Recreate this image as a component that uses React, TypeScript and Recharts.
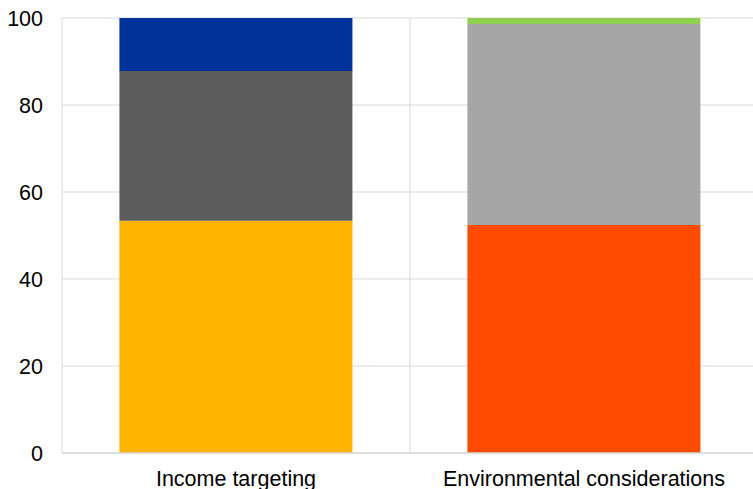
import React from 'react';
import { BarChart, Bar, XAxis, YAxis, CartesianGrid } from 'recharts';

const categories = ['Income targeting', 'Environmental considerations'];
const incomeLow = [53.4, 0];
const incomeMid = [34.4, 0];
const incomeTop = [12.2, 0];
const envLow = [0, 52.4];
const envMid = [0, 46.2];
const envTop = [0, 1.4];
const yTicks = [0, 20, 40, 60, 80, 100];

const data = categories.map((name, i) => ({
  name,
  incomeLow: incomeLow[i],
  envLow: envLow[i],
  incomeMid: incomeMid[i],
  envMid: envMid[i],
  incomeTop: incomeTop[i],
  envTop: envTop[i],
}));

const font = 'Arial, "Liberation Sans", sans-serif';

export default function App() {
  return (
    <div style={{ position: 'absolute', left: 0, top: 0, width: 753, height: 489, overflow: 'hidden', background: '#fff' }}>
      <BarChart
        width={760}
        height={489}
        data={data}
        margin={{ top: 18, right: 2, left: 0, bottom: 0 }}
        barCategoryGap="16.5%"
      >
        <CartesianGrid
          stroke="#d9d9d9"
          strokeWidth={1}
          verticalCoordinatesGenerator={({ offset }: any) => [
            offset.left,
            offset.left + offset.width / 2,
            offset.left + offset.width,
          ]}
        />
        <XAxis
          dataKey="name"
          height={36}
          tickLine={false}
          tickSize={0}
          tickMargin={18}
          axisLine={{ stroke: '#d9d9d9', strokeWidth: 1.5 }}
          tick={{ fill: '#000', fontSize: 21.5, fontFamily: font }}
          interval={0}
        />
        <YAxis
          width={62}
          domain={[0, 100]}
          ticks={yTicks}
          tickLine={false}
          tickSize={0}
          tickMargin={19}
          axisLine={false}
          tick={{ fill: '#000', fontSize: 21.5, fontFamily: font }}
        />
        <Bar dataKey="incomeLow" stackId="a" fill="#ffb400" isAnimationActive={false} />
        <Bar dataKey="envLow" stackId="a" fill="#ff4b00" isAnimationActive={false} />
        <Bar dataKey="incomeMid" stackId="a" fill="#5c5c5c" isAnimationActive={false} />
        <Bar dataKey="envMid" stackId="a" fill="#a6a6a6" isAnimationActive={false} />
        <Bar dataKey="incomeTop" stackId="a" fill="#003299" isAnimationActive={false} />
        <Bar dataKey="envTop" stackId="a" fill="#8fd14f" isAnimationActive={false} />
      </BarChart>
    </div>
  );
}
